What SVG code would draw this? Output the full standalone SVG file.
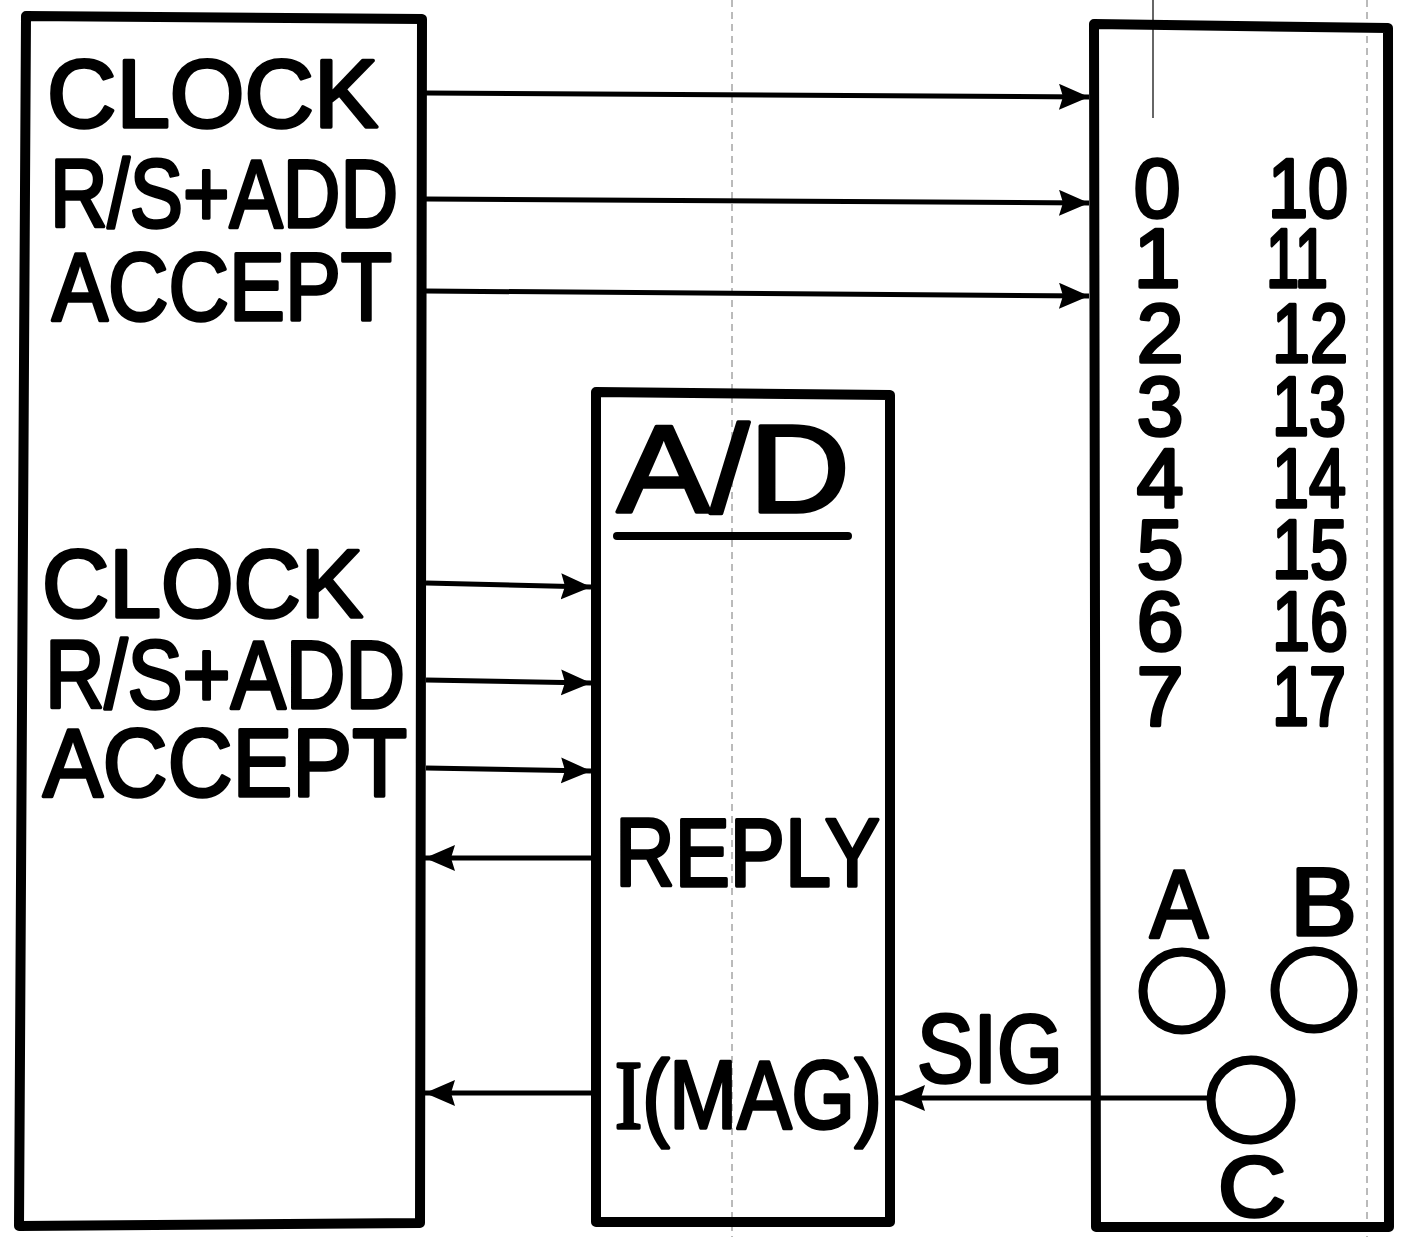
<svg xmlns="http://www.w3.org/2000/svg" width="1401" height="1237" viewBox="0 0 1401 1237">
<style>
.box{fill:none;stroke:#000;stroke-width:10;stroke-linejoin:round}
.lbl{font-family:"Liberation Sans",Arial,sans-serif;fill:#000;stroke:#000;stroke-width:3.5;stroke-linejoin:round}
.big{font-size:97px}
.dig{font-size:84px}
.wire{fill:none;stroke:#000;stroke-width:5}
.fold{fill:none;stroke:#777;stroke-width:1;stroke-dasharray:7 5}
.ring{fill:none;stroke:#000;stroke-width:9}
</style>
<defs>
<marker id="ah" markerUnits="userSpaceOnUse" markerWidth="32" markerHeight="28" refX="30" refY="13" orient="auto">
<path d="M0,0 L30,13 L0,26 L4,13 Z" fill="#000"/>
</marker>
</defs>
<rect width="1401" height="1237" fill="#fff"/>
<g id="fold-lines">
<line class="fold" x1="732" y1="0" x2="732" y2="1237"/>
<line class="fold" x1="1367" y1="0" x2="1367" y2="1237"/>
<line x1="1153" y1="0" x2="1153" y2="118" stroke="#333" stroke-width="1.5"/>
</g>
<g id="controller">
<path class="box" d="M26,16 L422,19 L420,1223 L19,1226 Z"/>
<text class="lbl big" x="47" y="127" textLength="331" lengthAdjust="spacingAndGlyphs">CLOCK</text>
<text class="lbl big" x="50" y="227" textLength="348" lengthAdjust="spacingAndGlyphs">R/S+ADD</text>
<text class="lbl big" x="52" y="320" textLength="340" lengthAdjust="spacingAndGlyphs">ACCEPT</text>
<text class="lbl big" x="42" y="617" textLength="321" lengthAdjust="spacingAndGlyphs">CLOCK</text>
<text class="lbl big" x="45" y="708" textLength="360" lengthAdjust="spacingAndGlyphs">R/S+ADD</text>
<text class="lbl big" x="43" y="796" textLength="364" lengthAdjust="spacingAndGlyphs">ACCEPT</text>
</g>
<g id="ad-converter">
<path class="box" d="M596,392 L890,395 L890,1222 L596,1222 Z"/>
<text class="lbl" font-size="125" stroke-width="5" x="617" y="512" textLength="233" lengthAdjust="spacingAndGlyphs">A/D</text>
<line x1="617" y1="536" x2="848" y2="536" stroke="#000" stroke-width="8" stroke-linecap="round"/>
<text class="lbl big" x="615" y="886" textLength="265" lengthAdjust="spacingAndGlyphs">REPLY</text>
<text class="lbl big" x="615" y="1128" textLength="267" lengthAdjust="spacingAndGlyphs"><tspan font-family="Liberation Serif, serif">I</tspan>(MAG)</text>
</g>
<g id="multiplexer">
<path class="box" d="M1094,24 L1388,28 L1389,1227 L1096,1227 Z"/>
<g class="lbl dig" text-anchor="middle">
<text x="1157" y="217">0</text>
<text x="1157" y="287">1</text>
<text x="1160" y="362">2</text>
<text x="1160" y="435">3</text>
<text x="1160" y="507">4</text>
<text x="1160" y="578">5</text>
<text x="1160" y="650">6</text>
<text x="1160" y="725">7</text>
</g>
<g class="lbl dig">
<text x="1268" y="217" textLength="80" lengthAdjust="spacingAndGlyphs">10</text>
<text x="1266" y="287" textLength="62" lengthAdjust="spacingAndGlyphs">11</text>
<text x="1272" y="362" textLength="76" lengthAdjust="spacingAndGlyphs">12</text>
<text x="1272" y="435" textLength="74" lengthAdjust="spacingAndGlyphs">13</text>
<text x="1272" y="507" textLength="74" lengthAdjust="spacingAndGlyphs">14</text>
<text x="1272" y="578" textLength="76" lengthAdjust="spacingAndGlyphs">15</text>
<text x="1272" y="650" textLength="76" lengthAdjust="spacingAndGlyphs">16</text>
<text x="1272" y="725" textLength="74" lengthAdjust="spacingAndGlyphs">17</text>
</g>
<text class="lbl" font-size="96" x="1150" y="937" textLength="58" lengthAdjust="spacingAndGlyphs">A</text>
<text class="lbl" font-size="96" x="1290" y="935" textLength="67" lengthAdjust="spacingAndGlyphs">B</text>
<circle class="ring" cx="1182" cy="991" r="39"/>
<circle class="ring" cx="1314" cy="990" r="39"/>
<circle class="ring" cx="1251" cy="1100" r="40"/>
<text class="lbl" font-size="86" x="1218" y="1216" textLength="68" lengthAdjust="spacingAndGlyphs">C</text>
</g>
<g id="connectors">
<line class="wire" x1="426" y1="93" x2="1089" y2="97" marker-end="url(#ah)"/>
<line class="wire" x1="426" y1="199" x2="1089" y2="203" marker-end="url(#ah)"/>
<line class="wire" x1="426" y1="291" x2="1089" y2="296" marker-end="url(#ah)"/>
<line class="wire" x1="426" y1="583" x2="591" y2="587" marker-end="url(#ah)"/>
<line class="wire" x1="426" y1="680" x2="591" y2="683" marker-end="url(#ah)"/>
<line class="wire" x1="426" y1="768" x2="591" y2="771" marker-end="url(#ah)"/>
<line class="wire" x1="591" y1="858" x2="425" y2="858" marker-end="url(#ah)"/>
<line class="wire" x1="591" y1="1093" x2="425" y2="1093" marker-end="url(#ah)"/>
<line class="wire" x1="1211" y1="1098" x2="895" y2="1098" marker-end="url(#ah)"/>
<text class="lbl big" x="917" y="1082" textLength="146" lengthAdjust="spacingAndGlyphs">SIG</text>
</g>
</svg>
